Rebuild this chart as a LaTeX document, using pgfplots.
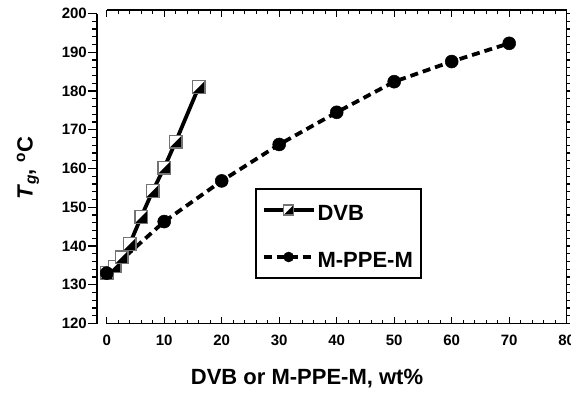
\documentclass[border=0pt]{standalone}
\usepackage{fontspec}
\setmainfont{Liberation Sans}
\usepackage{pgfplots}
\pgfplotsset{compat=1.18}

\pgfdeclareplotmark{halfsq}{%
  \pgfpathrectangle{\pgfqpoint{-\pgfplotmarksize}{-\pgfplotmarksize}}{\pgfqpoint{2\pgfplotmarksize}{2\pgfplotmarksize}}%
  \pgfsetfillcolor{white}\pgfusepath{fill}%
  \pgfpathmoveto{\pgfqpoint{-\pgfplotmarksize}{-\pgfplotmarksize}}%
  \pgfpathlineto{\pgfqpoint{\pgfplotmarksize}{-\pgfplotmarksize}}%
  \pgfpathlineto{\pgfqpoint{\pgfplotmarksize}{\pgfplotmarksize}}%
  \pgfpathclose
  \pgfsetfillcolor{black}\pgfusepath{fill}%
  \pgfsetlinewidth{1.3pt}\pgfsetdash{}{0pt}%
  \pgfpathrectangle{\pgfqpoint{-\pgfplotmarksize}{-\pgfplotmarksize}}{\pgfqpoint{2\pgfplotmarksize}{2\pgfplotmarksize}}%
  \pgfsetstrokecolor{black!55}\pgfusepath{stroke}%
}

\begin{document}
\begin{tikzpicture}
% left y axis (offset)
\begin{axis}[
  at={(-9.7pt,0pt)}, anchor=south west,
  scale only axis, width=10pt, height=310pt,
  xmin=0, xmax=1, ymin=120, ymax=200,
  axis y line*=left, axis x line=none,
  xtick=\empty,
  ytick={120,130,...,200}, minor y tick num=4,
  tick align=outside,
  major tick length=9pt, minor tick length=4.5pt,
  every tick/.style={black, line width=1.2pt},
  axis line style={line width=1.3pt},
  /pgf/number format/assume math mode=true,
  yticklabel style={font=\fontsize{15}{18}\selectfont\bfseries, inner sep=1pt},
  ylabel={\textbf{\textit{T}\textsubscript{\textit{g}}, \textsuperscript{o}C}},
  ylabel style={at={(axis description cs:-6.9,0.5)}, anchor=center, font=\fontsize{22}{26}\selectfont},
]
\end{axis}
% right y ticks
\begin{axis}[
  at={(0pt,0pt)}, anchor=south west,
  scale only axis, width=460pt, height=313.5pt,
  xmin=0, xmax=80, ymin=120, ymax=200.9,
  axis y line*=right, axis x line=none,
  xtick=\empty,
  ytick={120,122,...,200}, yticklabels={},
  tick align=outside,
  major tick length=3.5pt,
  every tick/.style={black, line width=1.2pt},
  axis line style={line width=1.3pt},
]
\end{axis}
% main axis with data
\begin{axis}[
  at={(0pt,0pt)}, anchor=south west,
  scale only axis, width=460pt, height=313.5pt,
  xmin=0, xmax=80, ymin=120, ymax=200.9,
  axis x line*=box, axis y line=none,
  ytick=\empty,
  xtick={0,10,...,80}, minor x tick num=4,
  tick align=inside,
  major tick length=7pt, minor tick length=4pt,
  every tick/.style={black, line width=1.2pt},
  axis line style={line width=1.3pt},
  clip=false,
  /pgf/number format/assume math mode=true,
  xticklabel style={font=\fontsize{15}{18}\selectfont\bfseries, yshift=-8pt},
  xlabel={\textbf{DVB or M-PPE-M, wt\%}},
  xlabel style={at={(axis description cs:0.4354,0)}, anchor=center, yshift=-55.5pt, font=\fontsize{22}{26}\selectfont},
  legend image code/.code={\draw[mark repeat=2,mark phase=2,#1,line width=3.8pt,mark size=5pt] plot coordinates {(0pt,0pt)(25pt,0pt)(50pt,0pt)};},
  legend cell align=left,
  legend style={at={(0.3224,0.4313)}, anchor=north west, draw=black, line width=1.5pt,
    font=\fontsize{22}{26}\selectfont\bfseries, inner xsep=6pt, inner ysep=6.7pt, row sep=18.5pt,
    nodes={text height=22.5pt, text depth=2pt}},
]
\addplot[black, line width=3.8pt, mark=halfsq, mark size=6.3pt] coordinates {
  (0,133) (1.4,134.7) (2.6,137.1) (4,140.5) (6,147.5) (8,154.2) (10,160.2) (12,166.9) (16,181.0)
};
\addlegendentry{DVB}
\addplot[black, line width=3.8pt, dash pattern=on 8pt off 5pt, mark=*, mark size=6.5pt, mark options={solid, fill=black, line width=0.5pt}] coordinates {
  (0,133) (10,146.3) (20,156.8) (30,166.2) (40,174.5) (50,182.4) (60,187.6) (70,192.3)
};
\addlegendentry{M-PPE-M}
\end{axis}
\pgfresetboundingbox
\useasboundingbox (-106.7pt,-70.5pt) rectangle (464.3pt,323.5pt);
\end{tikzpicture}
\end{document}
